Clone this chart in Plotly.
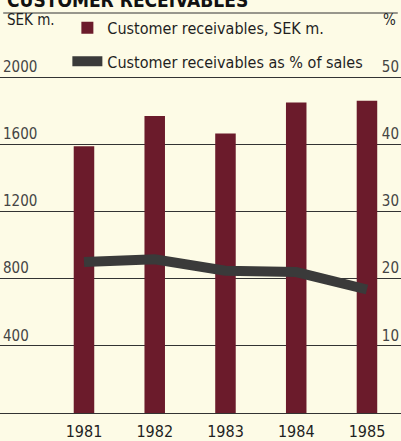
import plotly.graph_objects as go

years = ["1981", "1982", "1983", "1984", "1985"]
receivables_sek_m = [1590, 1770, 1665, 1850, 1860]
receivables_pct_sales = [22.5, 22.9, 21.2, 21.0, 18.4]
left_ticks = [400, 800, 1200, 1600, 2000]
right_ticks = [10, 20, 30, 40, 50]

FONT = "Liberation Sans Narrow, Arial Narrow, DejaVu Sans Condensed, sans-serif"
BG = "#fdfbe6"
BAR = "#6b1b2b"
LINE = "#3a3a3a"
INK = "#1f1f1f"

Y_TOP = 2383.5
fig = go.Figure()
fig.add_trace(go.Bar(
    x=years, y=receivables_sek_m, name="Customer receivables, SEK m.",
    marker=dict(color=BAR, line=dict(width=0)), width=0.29, legend="legend",
))
fig.add_trace(go.Scatter(
    x=years, y=receivables_pct_sales, name="Customer receivables as % of sales",
    mode="lines", line=dict(color=LINE, width=10), yaxis="y2", legend="legend2",
))

fig.update_layout(
    width=401, height=441,
    margin=dict(l=0, r=0, t=13, b=24),
    paper_bgcolor=BG, plot_bgcolor=BG,
    font=dict(family=FONT, size=16, color=INK),
    xaxis=dict(
        type="category", range=[-1.187, 4.481], showgrid=False,
        showline=True, linecolor="#333", linewidth=1,
        ticks="", tickfont=dict(size=16), ticklabelstandoff=4,
    ),
    yaxis=dict(
        range=[0, Y_TOP], tickvals=left_ticks, showgrid=True,
        gridcolor="#333", gridwidth=1, zeroline=False,
        ticklabelposition="inside top", ticks="", tickfont=dict(size=15),
    ),
    yaxis2=dict(
        range=[0, Y_TOP / 40], tickvals=right_ticks, overlaying="y", side="right",
        showgrid=False, zeroline=False, ticklabelposition="inside top", ticks="",
        tickfont=dict(size=15), ticklabelstandoff=-1,
    ),
    legend=dict(x=0.168, y=0.963, xanchor="left", yanchor="middle",
                bgcolor="rgba(0,0,0,0)", font=dict(size=16)),
    legend2=dict(x=0.168, y=0.879, xanchor="left", yanchor="middle",
                 bgcolor="rgba(0,0,0,0)", font=dict(size=16)),
    showlegend=True,
)

fig.add_shape(type="line", xref="paper", yref="paper", x0=0.008, x1=0.992, y0=1, y1=1,
              line=dict(color="#333", width=1))
fig.add_annotation(text="<b>CUSTOMER RECEIVABLES</b>", xref="paper", yref="paper",
                   x=0.012, y=1, xanchor="left", yanchor="bottom", showarrow=False,
                   font=dict(size=19, color="#111"))
fig.add_annotation(text="SEK m.", xref="paper", yref="paper", x=0.012, y=0.983,
                   xanchor="left", yanchor="middle", showarrow=False, font=dict(size=15))
fig.add_annotation(text="%", xref="paper", yref="paper", x=0.993, y=0.983,
                   xanchor="right", yanchor="middle", showarrow=False, font=dict(size=15))

fig.write_html("out.html")
